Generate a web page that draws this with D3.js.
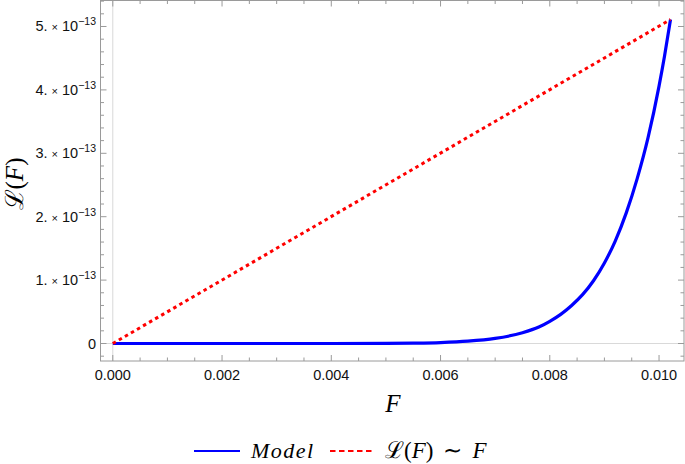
<!DOCTYPE html>
<html><head><meta charset="utf-8">
<script src="https://cdn.jsdelivr.net/npm/d3@7"></script>
<style>body{margin:0;background:#fff}svg{display:block}</style>
</head><body>
<svg id="c" width="685" height="464"></svg>
<script>
// Data (L in units of 1e-13)
const modelF = [0, 0.001, 0.002, 0.003, 0.004, 0.005, 0.0055, 0.006, 0.0065, 0.007, 0.0075, 0.0078, 0.008, 0.0082, 0.0084, 0.0086, 0.0088, 0.009, 0.0092, 0.0094, 0.0096, 0.0098, 0.01, 0.0101, 0.01021];
const modelL = [0, 0, 0, 0, 0.0001, 0.002, 0.006, 0.015, 0.036, 0.08, 0.17, 0.26, 0.35, 0.46, 0.6, 0.77, 0.99, 1.27, 1.62, 2.06, 2.6, 3.25, 4.06, 4.53, 5.11];
const linearF = [0, 0.01021];
const linearL = [0, 5.11];
const xTicks = [0, 0.002, 0.004, 0.006, 0.008, 0.010];
const xTickLabels = ["0.000", "0.002", "0.004", "0.006", "0.008", "0.010"];
const yTicks = [0, 1, 2, 3, 4, 5];
const yTickMant = ["0", "1.", "2.", "3.", "4.", "5."];
const legendLabels = ["Model", "ℒ(F) ∼ F"];

const svg = d3.select("#c");
const L = 100.5, R = 684, T = 0.5, B = 361;
const x = d3.scaleLinear().domain([-0.000225, 0.010457]).range([L, R]);
const y = d3.scaleLinear().domain([-0.276, 5.41]).range([B, T]);

// axes-origin lines
svg.append("line").attr("x1", x(0)).attr("x2", x(0)).attr("y1", T).attr("y2", B).attr("stroke", "#d9d9d9").attr("stroke-width", 1);
svg.append("line").attr("x1", L).attr("x2", R).attr("y1", y(0)).attr("y2", y(0)).attr("stroke", "#d9d9d9").attr("stroke-width", 1);

// frame
svg.append("rect").attr("x", L).attr("y", T).attr("width", R - L).attr("height", B - T)
  .attr("fill", "none").attr("stroke", "#9a9a9a").attr("stroke-width", 1);

const tickCol = "#9a9a9a";
const xMinor = d3.range(0, 0.01046, 0.0005).filter(v => !xTicks.some(t => Math.abs(t - v) < 1e-9));
xTicks.forEach(t => {
  svg.append("line").attr("x1", x(t)).attr("x2", x(t)).attr("y1", B).attr("y2", B - 6).attr("stroke", tickCol);
  svg.append("line").attr("x1", x(t)).attr("x2", x(t)).attr("y1", T).attr("y2", T + 6).attr("stroke", tickCol);
});
xMinor.forEach(t => {
  svg.append("line").attr("x1", x(t)).attr("x2", x(t)).attr("y1", B).attr("y2", B - 3.5).attr("stroke", tickCol);
  svg.append("line").attr("x1", x(t)).attr("x2", x(t)).attr("y1", T).attr("y2", T + 3.5).attr("stroke", tickCol);
});
svg.selectAll(".xl").data(xTicks).enter().append("text")
  .attr("x", d => x(d)).attr("y", B + 19).attr("text-anchor", "middle")
  .attr("font-family", "Liberation Sans, Arial, sans-serif").attr("font-size", 14.5).attr("fill", "#111")
  .text((d, i) => xTickLabels[i]);

const yMinor = d3.range(-0.2, 5.41, 0.2).filter(v => !yTicks.some(t => Math.abs(t - v) < 1e-6));
yTicks.forEach(t => {
  svg.append("line").attr("x1", L).attr("x2", L + 6).attr("y1", y(t)).attr("y2", y(t)).attr("stroke", tickCol);
  svg.append("line").attr("x1", R).attr("x2", R - 6).attr("y1", y(t)).attr("y2", y(t)).attr("stroke", tickCol);
});
yMinor.forEach(t => {
  svg.append("line").attr("x1", L).attr("x2", L + 3.5).attr("y1", y(t)).attr("y2", y(t)).attr("stroke", tickCol);
  svg.append("line").attr("x1", R).attr("x2", R - 3.5).attr("y1", y(t)).attr("y2", y(t)).attr("stroke", tickCol);
});
yTicks.forEach((t, i) => {
  const tx = svg.append("text").attr("x", 96).attr("y", y(t) + 5).attr("text-anchor", "end")
    .attr("font-family", "Liberation Sans, Arial, sans-serif").attr("font-size", 14.5).attr("fill", "#111");
  if (t === 0) { tx.text("0"); return; }
  tx.append("tspan").text(yTickMant[i] + " ");
  tx.append("tspan").attr("font-size", 11).text("×");
  tx.append("tspan").text(" 10");
  tx.append("tspan").attr("font-size", 10.5).attr("dy", -6).text("−13");
});

// lines
const line = d3.line().x(d => x(d[0])).y(d => y(d[1])).curve(d3.curveMonotoneX);
svg.append("path").datum(modelF.map((f, i) => [f, modelL[i]])).attr("d", line)
  .attr("fill", "none").attr("stroke", "#0000ff").attr("stroke-width", 3.2);
svg.append("path").datum(linearF.map((f, i) => [f, linearL[i]])).attr("d", d3.line().x(d => x(d[0])).y(d => y(d[1])))
  .attr("fill", "none").attr("stroke", "#ff0000").attr("stroke-width", 3).attr("stroke-dasharray", "3.5,3.5");

// axis labels
svg.append("text").attr("x", 393).attr("y", 412).attr("text-anchor", "middle")
  .attr("font-family", "Liberation Serif, serif").attr("font-style", "italic").attr("font-size", 25).text("F");
svg.append("text").attr("transform", "translate(23,184) rotate(-90)").attr("text-anchor", "middle")
  .attr("font-family", "Liberation Serif, DejaVu Serif, serif").attr("font-size", 25)
  .html('<tspan font-family="DejaVu Serif">ℒ</tspan>(<tspan font-style="italic">F</tspan>)');

// legend
const ly = 451;
svg.append("line").attr("x1", 194).attr("x2", 240).attr("y1", ly).attr("y2", ly).attr("stroke", "#0000ff").attr("stroke-width", 2.2);
svg.append("text").attr("x", 251).attr("y", ly + 7).attr("font-family", "Liberation Serif, serif").attr("font-style", "italic")
  .attr("font-size", 22).attr("letter-spacing", 1.5).text(legendLabels[0]);
svg.append("line").attr("x1", 330).attr("x2", 374).attr("y1", ly).attr("y2", ly).attr("stroke", "#ff0000").attr("stroke-width", 2.2).attr("stroke-dasharray", "5.5,3.5");
svg.append("text").attr("x", 385).attr("y", ly + 7).attr("font-family", "Liberation Serif, serif").attr("font-size", 23)
  .html('<tspan font-family="DejaVu Serif">ℒ</tspan>(<tspan font-style="italic">F</tspan>)<tspan dx="10">∼</tspan><tspan dx="10" font-style="italic">F</tspan>');
</script>
</body></html>
